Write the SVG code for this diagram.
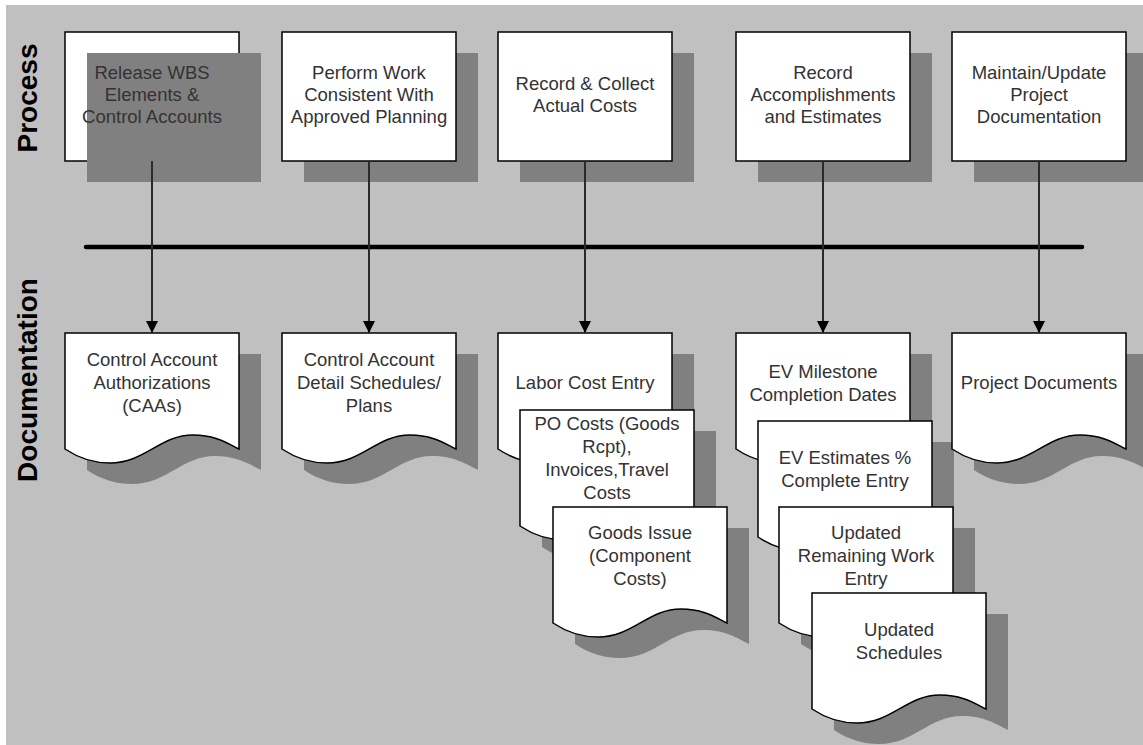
<svg xmlns="http://www.w3.org/2000/svg" xmlns:xlink="http://www.w3.org/1999/xlink" width="1143" height="745" viewBox="0 0 1143 745">
  <style>
    .panel { fill: #c0c0c0; }
    .box { fill: #ffffff; stroke: #000000; stroke-width: 1.5; }
    .shadow { fill: #808080; stroke: none; }
    .label { font-family: "Liberation Sans", Arial, sans-serif; font-size: 18.5px; fill: #333333; text-anchor: middle; }
    .lane { font-family: "Liberation Sans", Arial, sans-serif; font-size: 28px; font-weight: bold; fill: #000000; text-anchor: middle; }
    .bar { stroke: #000000; stroke-width: 4.5; stroke-linecap: round; fill: none; }
    .flow { stroke: #2a2a2a; stroke-width: 2; fill: none; }
  </style>
  <defs>
    <!-- document shape with wavy bottom edge, 174 wide -->
    <path id="doc" d="M0,0 H174 V116 C162,110 150,102 128,102 C95,102 80,130 45,130 C30,130 15,126 0,116 Z"/>
    <marker id="arrow" viewBox="0 0 12 12" refX="12" refY="6" markerWidth="12" markerHeight="12" markerUnits="userSpaceOnUse" orient="auto">
      <path d="M0,0 L12,6 L0,12 Z" fill="#000000"/>
    </marker>
  </defs>

  <!-- background panel -->
  <rect x="0" y="0" width="1143" height="745" fill="#ffffff"/>
  <rect class="panel" x="6" y="5" width="1137" height="740"/>

  <!-- swimlane titles -->
  <text class="lane" transform="translate(37,98) rotate(-90)">Process</text>
  <text class="lane" transform="translate(37,380) rotate(-90)">Documentation</text>

  <!-- process steps -->
  <g id="p-release">
    <rect class="box" x="65" y="32" width="174" height="129"/>
    <rect class="shadow" x="87" y="53" width="174" height="129"/>
    <text class="label" x="152" y="79">Release WBS</text>
    <text class="label" x="152" y="101">Elements &amp;</text>
    <text class="label" x="152" y="123">Control Accounts</text>
  </g>
  <g id="p-perform">
    <rect class="shadow" x="304" y="53" width="174" height="129"/>
    <rect class="box" x="282" y="32" width="174" height="129"/>
    <text class="label" x="369" y="79">Perform Work</text>
    <text class="label" x="369" y="101">Consistent With</text>
    <text class="label" x="369" y="123">Approved Planning</text>
  </g>
  <g id="p-record-costs">
    <rect class="shadow" x="520" y="53" width="174" height="129"/>
    <rect class="box" x="498" y="32" width="174" height="129"/>
    <text class="label" x="585" y="90">Record &amp; Collect</text>
    <text class="label" x="585" y="112">Actual Costs</text>
  </g>
  <g id="p-record-accomplishments">
    <rect class="shadow" x="758" y="53" width="174" height="129"/>
    <rect class="box" x="736" y="32" width="174" height="129"/>
    <text class="label" x="823" y="79">Record</text>
    <text class="label" x="823" y="101">Accomplishments</text>
    <text class="label" x="823" y="123">and Estimates</text>
  </g>
  <g id="p-maintain">
    <rect class="shadow" x="974" y="53" width="174" height="129"/>
    <rect class="box" x="952" y="32" width="174" height="129"/>
    <text class="label" x="1039" y="79">Maintain/Update</text>
    <text class="label" x="1039" y="101">Project</text>
    <text class="label" x="1039" y="123">Documentation</text>
  </g>

  <!-- documents -->
  <g id="d-caa">
    <use xlink:href="#doc" class="shadow" transform="translate(87,354)"/>
    <use xlink:href="#doc" class="box" transform="translate(65,333)"/>
    <text class="label" x="152" y="366">Control Account</text>
    <text class="label" x="152" y="389">Authorizations</text>
    <text class="label" x="152" y="412">(CAAs)</text>
  </g>
  <g id="d-schedules">
    <use xlink:href="#doc" class="shadow" transform="translate(304,354)"/>
    <use xlink:href="#doc" class="box" transform="translate(282,333)"/>
    <text class="label" x="369" y="366">Control Account</text>
    <text class="label" x="369" y="389">Detail Schedules/</text>
    <text class="label" x="369" y="412">Plans</text>
  </g>
  <g id="d-labor">
    <use xlink:href="#doc" class="shadow" transform="translate(520,354)"/>
    <use xlink:href="#doc" class="box" transform="translate(498,333)"/>
    <text class="label" x="585" y="389">Labor Cost Entry</text>
  </g>
  <g id="d-po">
    <use xlink:href="#doc" class="shadow" transform="translate(542,431)"/>
    <use xlink:href="#doc" class="box" transform="translate(520,410)"/>
    <text class="label" x="607" y="430">PO Costs (Goods</text>
    <text class="label" x="607" y="453">Rcpt),</text>
    <text class="label" x="607" y="476">Invoices,Travel</text>
    <text class="label" x="607" y="499">Costs</text>
  </g>
  <g id="d-goods">
    <use xlink:href="#doc" class="shadow" transform="translate(575,528)"/>
    <use xlink:href="#doc" class="box" transform="translate(553,507)"/>
    <text class="label" x="640" y="539">Goods Issue</text>
    <text class="label" x="640" y="562">(Component</text>
    <text class="label" x="640" y="585">Costs)</text>
  </g>
  <g id="d-milestone">
    <use xlink:href="#doc" class="shadow" transform="translate(758,354)"/>
    <use xlink:href="#doc" class="box" transform="translate(736,333)"/>
    <text class="label" x="823" y="378">EV Milestone</text>
    <text class="label" x="823" y="401">Completion Dates</text>
  </g>
  <g id="d-estimates">
    <use xlink:href="#doc" class="shadow" transform="translate(780,442)"/>
    <use xlink:href="#doc" class="box" transform="translate(758,421)"/>
    <text class="label" x="845" y="464">EV Estimates %</text>
    <text class="label" x="845" y="487">Complete Entry</text>
  </g>
  <g id="d-remaining">
    <use xlink:href="#doc" class="shadow" transform="translate(801,528)"/>
    <use xlink:href="#doc" class="box" transform="translate(779,507)"/>
    <text class="label" x="866" y="539">Updated</text>
    <text class="label" x="866" y="562">Remaining Work</text>
    <text class="label" x="866" y="585">Entry</text>
  </g>
  <g id="d-updated-schedules">
    <use xlink:href="#doc" class="shadow" transform="translate(834,614)"/>
    <use xlink:href="#doc" class="box" transform="translate(812,593)"/>
    <text class="label" x="899" y="636">Updated</text>
    <text class="label" x="899" y="659">Schedules</text>
  </g>
  <g id="d-project">
    <use xlink:href="#doc" class="shadow" transform="translate(974,354)"/>
    <use xlink:href="#doc" class="box" transform="translate(952,333)"/>
    <text class="label" x="1039" y="389">Project Documents</text>
  </g>

  <!-- connectors -->
  <g id="connectors">
    <line class="bar" x1="86" y1="247" x2="1082" y2="247"/>
    <line class="flow" x1="152" y1="161" x2="152" y2="333" marker-end="url(#arrow)"/>
    <line class="flow" x1="369" y1="161" x2="369" y2="333" marker-end="url(#arrow)"/>
    <line class="flow" x1="585" y1="161" x2="585" y2="333" marker-end="url(#arrow)"/>
    <line class="flow" x1="823" y1="161" x2="823" y2="333" marker-end="url(#arrow)"/>
    <line class="flow" x1="1039" y1="161" x2="1039" y2="333" marker-end="url(#arrow)"/>
  </g>
</svg>
